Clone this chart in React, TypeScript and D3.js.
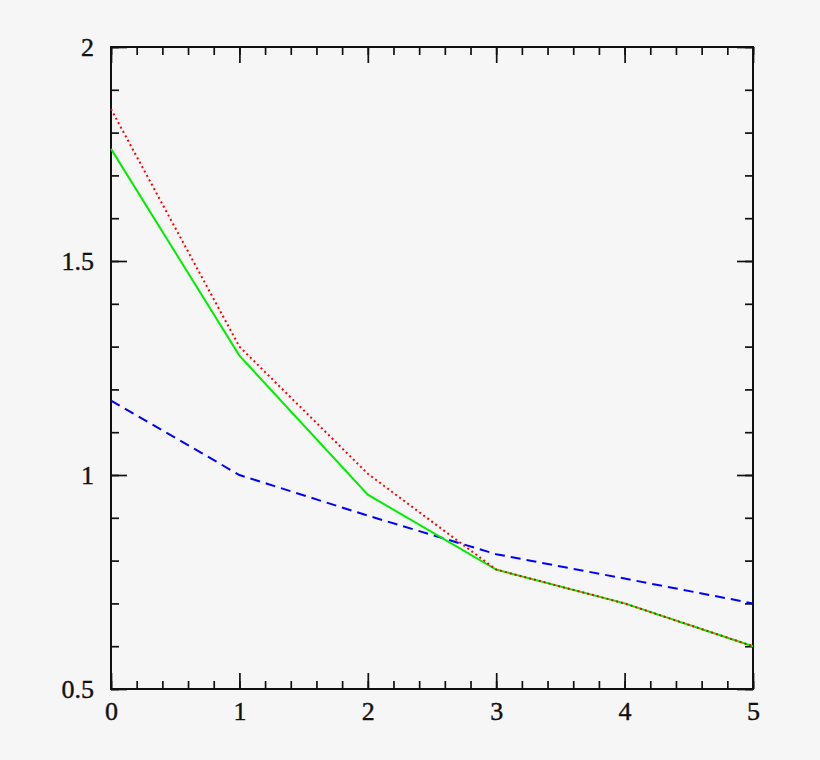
import * as d3 from "d3";
import { useEffect, useRef } from "react";

const xValues = [0, 1, 2, 3, 4, 5];
const redDotted = [1.855, 1.3, 1.003, 0.779, 0.7, 0.6];
const greenSolid = [1.762, 1.279, 0.954, 0.779, 0.7, 0.6];
const blueDashed = [1.174, 1.0, 0.905, 0.815, 0.758, 0.7];
const xTickLabels = ["0", "1", "2", "3", "4", "5"];
const yTickValues = [0.5, 1, 1.5, 2];
const yTickLabels = ["0.5", "1", "1.5", "2"];

function App() {
	const ref = useRef<SVGSVGElement>(null);
	const width = 820;
	const height = 760;
	const margin = { left: 111, top: 47, right: 67, bottom: 71 };

	useEffect(() => {
		document.body.style.margin = "0";
		document.body.style.background = "#f6f6f6";
		const svg = d3.select(ref.current);
		svg.selectAll("*").remove();

		const x = d3
			.scaleLinear()
			.domain([0, 5])
			.range([margin.left, width - margin.right]);
		const y = d3
			.scaleLinear()
			.domain([0.5, 2])
			.range([height - margin.bottom, margin.top]);

		svg.append("rect")
			.attr("width", width)
			.attr("height", height)
			.attr("fill", "#f6f6f6");

		const minorX = d3.range(0, 5.001, 0.2);
		const minorY = d3.range(0.5, 2.001, 0.1);
		const plotW = width - margin.left - margin.right;
		const plotH = height - margin.top - margin.bottom;

		const addAxis = (
			axis: d3.Axis<d3.NumberValue>,
			tx: number,
			ty: number
		) => {
			const g = svg
				.append("g")
				.attr("transform", `translate(${tx},${ty})`)
				.attr("font-family", "'Liberation Serif', serif")
				.attr("font-size", 26)
				.call(axis);
			g.select(".domain").remove();
			g.selectAll("line")
				.attr("stroke", "#111")
				.attr("stroke-width", 1.7);
			g.selectAll("text")
				.style("font-family", "'Liberation Serif', serif")
				.style("font-size", "26px")
				.attr("fill", "#111")
				.attr("stroke", "#111")
				.attr("stroke-width", 0.4);
			return g;
		};

		// bottom
		addAxis(
			d3.axisBottom(x).tickValues(minorX).tickSize(-8).tickFormat(() => ""),
			0,
			height - margin.bottom
		);
		addAxis(
			d3
				.axisBottom(x)
				.tickValues(xValues)
				.tickSize(-16)
				.tickPadding(13)
				.tickFormat((_, i) => xTickLabels[i]),
			0,
			height - margin.bottom
		);
		// top
		addAxis(
			d3.axisTop(x).tickValues(minorX).tickSize(-8).tickFormat(() => ""),
			0,
			margin.top
		);
		addAxis(
			d3.axisTop(x).tickValues(xValues).tickSize(-16).tickFormat(() => ""),
			0,
			margin.top
		);
		// left
		addAxis(
			d3.axisLeft(y).tickValues(minorY).tickSize(-8).tickFormat(() => ""),
			margin.left,
			0
		);
		addAxis(
			d3
				.axisLeft(y)
				.tickValues(yTickValues)
				.tickSize(-16)
				.tickPadding(17)
				.tickFormat((_, i) => yTickLabels[i]),
			margin.left,
			0
		);
		// right
		addAxis(
			d3.axisRight(y).tickValues(minorY).tickSize(-8).tickFormat(() => ""),
			width - margin.right,
			0
		);
		addAxis(
			d3.axisRight(y).tickValues(yTickValues).tickSize(-16).tickFormat(() => ""),
			width - margin.right,
			0
		);

		svg.append("rect")
			.attr("x", margin.left)
			.attr("y", margin.top)
			.attr("width", plotW)
			.attr("height", plotH)
			.attr("fill", "none")
			.attr("stroke", "#111")
			.attr("stroke-width", 2);

		const line = d3
			.line<number>()
			.x((_, i) => x(xValues[i]))
			.y((d) => y(d));

		const series = [
			{ values: blueDashed, color: "#0000ff", dash: "10,6" },
			{ values: greenSolid, color: "#00ee00", dash: null },
			{ values: redDotted, color: "#ff0000", dash: "2,3" },
		];
		series.forEach((s) => {
			svg.append("path")
				.datum(s.values)
				.attr("d", line)
				.attr("fill", "none")
				.attr("stroke", s.color)
				.attr("stroke-width", 2)
				.attr("stroke-dasharray", s.dash);
		});
	}, []);

	return (
		<svg
			ref={ref}
			width={width}
			height={height}
			style={{ display: "block" }}
		></svg>
	);
}

export default App;
